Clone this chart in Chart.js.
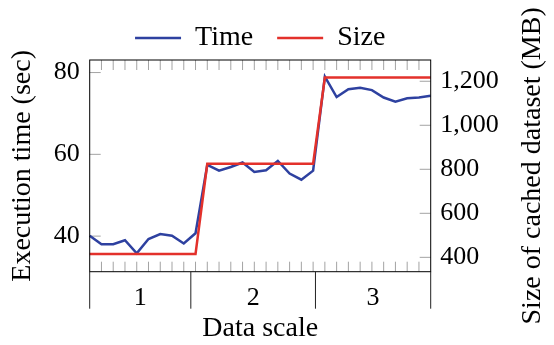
<!DOCTYPE html>
<html><head><meta charset="utf-8">
<script src="https://cdn.jsdelivr.net/npm/chart.js@4.4.1/dist/chart.umd.min.js"></script>
<style>html,body{margin:0;padding:0;background:#fff}</style>
</head><body>
<canvas id="c" width="554" height="345"></canvas>
<script>
// ---- data ----
const runs = ['1','2','3','4','5','6','7','8','9','10','11','12','13','14','15','16','17','18','19','20','21','22','23','24','25','26','27','28','29','30'];
const groups = ['1', '2', '3'];
const groupEdges = [0, 8.6, 19.2, 29];
const timeSec = [40.1, 38.0, 38.0, 39.0, 35.8, 39.3, 40.5, 40.1, 38.2, 40.7,
                 57.4, 56.0, 56.9, 58.0, 55.7, 56.1, 58.4, 55.3, 53.8, 56.0,
                 79.0, 74.0, 75.9, 76.3, 75.7, 73.9, 72.9, 73.7, 73.9, 74.3];
const sizeMB = [415, 415, 415, 415, 415, 415, 415, 415, 415, 415,
                825, 825, 825, 825, 825, 825, 825, 825, 825, 825,
                1217, 1217, 1217, 1217, 1217, 1217, 1217, 1217, 1217, 1217];
const timeTicks = [40, 60, 80];
const sizeTicks = [400, 600, 800, 1000, 1200];

const FAMILY = "'Liberation Serif', 'Times New Roman', serif";
const FS = 26;      // tick labels
const FT = 28;      // titles and legend
const BLUE = '#2e41a0';
const RED = '#e3312b';

const framePlugin = {
  id: 'frame',
  beforeDatasetsDraw(chart) {
    const {ctx, chartArea: a, scales} = chart;
    const x = scales.x, y = scales.y, y2 = scales.y2;
    ctx.save();
    ctx.strokeStyle = '#a3a3a3';
    ctx.lineWidth = 1;
    ctx.beginPath();
    for (let i = 1; i < runs.length - 1; i++) {
      const px = x.getPixelForValue(i);
      ctx.moveTo(px, a.top); ctx.lineTo(px, a.top + 10);
      ctx.moveTo(px, a.bottom); ctx.lineTo(px, a.bottom - 10);
    }
    timeTicks.forEach(v => { const py = y.getPixelForValue(v); ctx.moveTo(a.left, py); ctx.lineTo(a.left + 11, py); });
    sizeTicks.forEach(v => { const py = y2.getPixelForValue(v); ctx.moveTo(a.right, py); ctx.lineTo(a.right - 11, py); });
    ctx.stroke();
    ctx.restore();
  },
  afterDatasetsDraw(chart) {
    const {ctx, chartArea: a, scales} = chart;
    const x = scales.x;
    ctx.save();
    ctx.strokeStyle = '#000';
    ctx.lineWidth = 1;
    ctx.strokeRect(a.left, a.top, a.right - a.left, a.bottom - a.top);
    ctx.strokeStyle = '#222';
    ctx.beginPath();
    groupEdges.forEach(e => {
      const px = x.getPixelForValue(e);
      ctx.moveTo(px, a.bottom); ctx.lineTo(px, a.bottom + 37);
    });
    ctx.stroke();
    ctx.fillStyle = '#000';
    ctx.font = FS + 'px ' + FAMILY;
    ctx.textAlign = 'center';
    ctx.textBaseline = 'alphabetic';
    groups.forEach((g, i) => {
      const cx = x.getPixelForValue((groupEdges[i] + groupEdges[i + 1]) / 2);
      ctx.fillText(g, cx, a.bottom + 33.5);
    });
    // right axis title (reads bottom to top)
    ctx.font = FT + 'px ' + FAMILY;
    ctx.translate(a.right + 109, (a.top + a.bottom) / 2);
    ctx.rotate(-Math.PI / 2);
    ctx.fillText('Size of cached dataset (MB)', 0, 0);
    ctx.restore();
  }
};

new Chart(document.getElementById('c'), {
  type: 'line',
  data: {
    labels: runs,
    datasets: [
      { label: 'Time', data: timeSec, yAxisID: 'y', borderColor: BLUE, backgroundColor: BLUE,
        borderWidth: 2.5, pointRadius: 0, tension: 0, borderJoinStyle: 'miter', order: 1 },
      { label: 'Size', data: sizeMB, yAxisID: 'y2', borderColor: RED, backgroundColor: RED,
        borderWidth: 2.5, pointRadius: 0, tension: 0, borderJoinStyle: 'miter', order: 0 }
    ]
  },
  options: {
    responsive: false, animation: false, devicePixelRatio: 1, locale: 'en-US',
    layout: { padding: 0 },
    plugins: {
      tooltip: { enabled: false },
      legend: {
        position: 'top', fullSize: false, maxHeight: 60,
        labels: {
          usePointStyle: true, pointStyle: 'line', pointStyleWidth: 46, padding: 24,
          font: { family: FAMILY, size: FT }, color: '#000',
          sort: (a, b) => a.datasetIndex - b.datasetIndex
        }
      }
    },
    scales: {
      x: {
        type: 'category', offset: false,
        grid: { display: false, drawTicks: false }, border: { display: false },
        ticks: { display: false },
        title: { display: true, text: 'Data scale', color: '#000', font: { family: FAMILY, size: FT }, padding: { top: 0, bottom: 0 } },
        afterFit(s) { s.height = 73.3; }
      },
      y: {
        type: 'linear', position: 'left', min: 31.3, max: 83.07,
        afterBuildTicks(s) { s.ticks = timeTicks.map(v => ({ value: v })); },
        grid: { display: false, drawTicks: false }, border: { display: false },
        ticks: { color: '#000', font: { family: FAMILY, size: FS }, padding: 10 },
        title: { display: true, text: 'Execution time (sec)', color: '#000', font: { family: FAMILY, size: FT }, padding: { top: 6.2, bottom: 0 } },
        afterFit(s) { s.width = 89.7; }
      },
      y2: {
        type: 'linear', position: 'right', min: 334.7, max: 1296.6,
        afterBuildTicks(s) { s.ticks = sizeTicks.map(v => ({ value: v })); },
        grid: { display: false, drawTicks: false }, border: { display: false },
        ticks: { color: '#000', font: { family: FAMILY, size: FS }, padding: 9.5 },
        afterFit(s) { s.width = 123.3; }
      }
    }
  },
  plugins: [framePlugin]
});
</script>
</body></html>
